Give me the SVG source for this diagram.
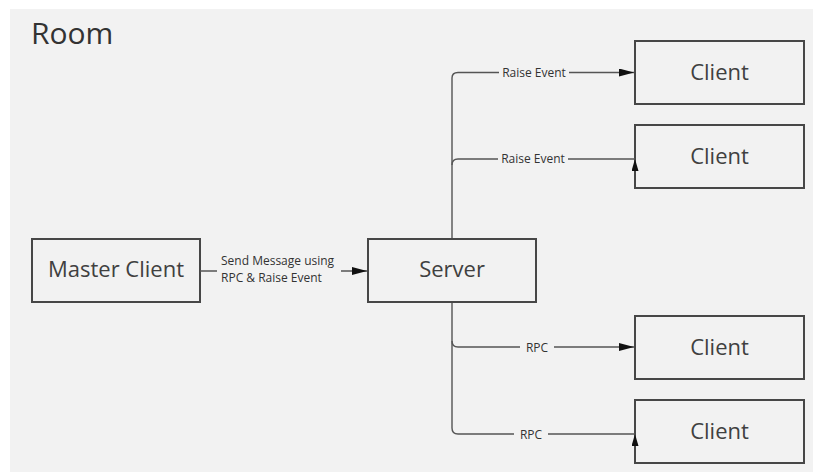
<svg xmlns="http://www.w3.org/2000/svg" width="813" height="472" viewBox="0 0 813 472">
<style>
.box{fill:#f2f2f2;stroke:#474747;stroke-width:2}
.nt{font-family:"Open Sans",sans-serif;font-size:22px;fill:#404040;text-anchor:middle}
.lbl{font-family:"Open Sans",sans-serif;font-size:12px;fill:#333}
.lb{fill:#f2f2f2}
.ln{fill:none;stroke:#555;stroke-width:1.4}
</style>
<defs>
<marker id="ah" markerWidth="15" markerHeight="8" refX="15" refY="4" orient="auto" markerUnits="userSpaceOnUse">
<path d="M0,0 L15,4 L0,8 Z" fill="#111"/>
</marker>
<marker id="ahs" markerWidth="12" markerHeight="7" refX="12" refY="3.5" orient="auto" markerUnits="userSpaceOnUse">
<path d="M0,0 L12,3.5 L0,7 Z" fill="#111"/>
</marker>
</defs>
<rect x="10" y="9" width="803" height="463" fill="#f2f2f2"/>
<text x="31" y="44" font-family="Open Sans, sans-serif" font-size="30" fill="#333">Room</text>
<g id="master-client"><rect class="box" x="32" y="239" width="168" height="63"/><text class="nt" x="116" y="277">Master Client</text></g>
<g id="server"><rect class="box" x="368" y="239" width="168" height="63"/><text class="nt" x="452" y="277">Server</text></g>
<g id="client-1"><rect class="box" x="635" y="41" width="169" height="63"/><text class="nt" x="719.5" y="80">Client</text></g>
<g id="client-2"><rect class="box" x="635" y="125" width="169" height="63"/><text class="nt" x="719.5" y="164">Client</text></g>
<g id="client-3"><rect class="box" x="635" y="316" width="169" height="63"/><text class="nt" x="719.5" y="355">Client</text></g>
<g id="client-4"><rect class="box" x="635" y="400" width="169" height="63"/><text class="nt" x="719.5" y="439">Client</text></g>
<g id="connectors">
<path class="ln" d="M200,271 H367" marker-end="url(#ah)"/>
<rect class="lb" x="217" y="252" width="124" height="34"/>
<text class="lbl"><tspan x="221" y="265">Send Message using</tspan><tspan x="221" y="282">RPC &amp; Raise Event</tspan></text>
<path class="ln" d="M452,238 V78 Q452,72.5 458,72.5 H634" marker-end="url(#ah)"/>
<path class="ln" d="M452,165 Q452,159 458,159 H635"/>
<path class="ln" d="M635,171 V159" marker-end="url(#ahs)"/>
<path class="ln" d="M452,303 V428 Q452,434 458,434 H635"/>
<path class="ln" d="M452,341 Q452,347 458,347 H634" marker-end="url(#ah)"/>
<path class="ln" d="M635,446 V434" marker-end="url(#ahs)"/>
<rect class="lb" x="499" y="65" width="70" height="15"/>
<text class="lbl" x="534" y="76.5" text-anchor="middle">Raise Event</text>
<rect class="lb" x="498" y="151" width="70" height="15"/>
<text class="lbl" x="533" y="163" text-anchor="middle">Raise Event</text>
<rect class="lb" x="520" y="340" width="34" height="15"/>
<text class="lbl" x="537" y="351.5" text-anchor="middle">RPC</text>
<rect class="lb" x="514" y="427" width="34" height="15"/>
<text class="lbl" x="531" y="438.5" text-anchor="middle">RPC</text>
</g>
</svg>
